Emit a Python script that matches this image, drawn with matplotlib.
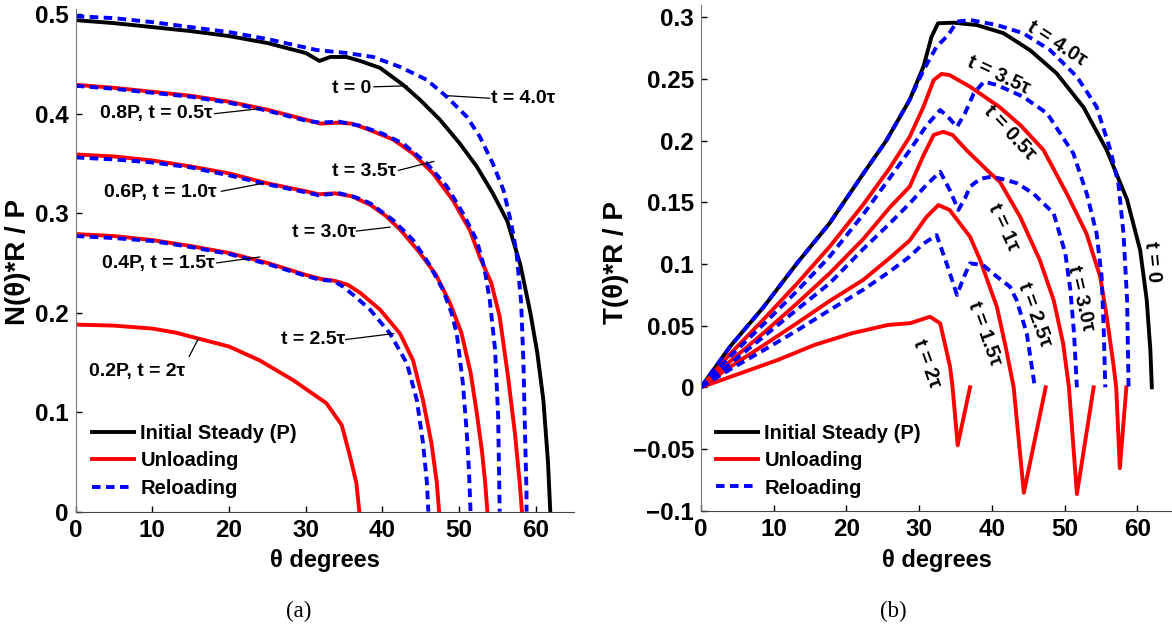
import matplotlib
matplotlib.use("Agg")
import matplotlib.pyplot as plt
from matplotlib.ticker import FuncFormatter

plt.rcParams['font.family'] = ['Liberation Sans', 'DejaVu Sans']
plt.rcParams['font.weight'] = 'bold'

# ---- (a) N(theta)*R/P ----
n_steady_x = [0, 5, 10, 15, 20, 25, 30, 31.8, 33.2, 35.3, 37.1, 39.7, 42.7, 44.9, 47.5, 50.1, 52.3, 54.4, 56.3, 58.0, 59.3, 60.2, 61.0, 61.6, 61.9]
n_steady_y = [0.494, 0.491, 0.487, 0.483, 0.478, 0.471, 0.461, 0.453, 0.457, 0.457, 0.453, 0.446, 0.429, 0.414, 0.394, 0.370, 0.347, 0.320, 0.292, 0.248, 0.200, 0.160, 0.112, 0.050, 0.0]

n_u08_x = [0, 5, 10, 15, 20, 25, 30, 31.9, 34.3, 36.0, 37.9, 41.4, 44.0, 46.6, 49.2, 51.4, 52.7, 54.2, 55.3, 56.4, 57.3, 57.9, 58.2]
n_u08_y = [0.429, 0.426, 0.422, 0.418, 0.412, 0.404, 0.394, 0.390, 0.391, 0.390, 0.385, 0.374, 0.360, 0.340, 0.313, 0.283, 0.256, 0.230, 0.196, 0.135, 0.078, 0.030, 0.0]
n_u06_x = [0, 5, 10, 15, 20, 25, 30, 31.7, 33.8, 36.0, 38.5, 40.5, 42.5, 44.9, 47.0, 48.8, 50.3, 51.5, 52.3, 53.0, 53.4, 53.7]
n_u06_y = [0.359, 0.357, 0.353, 0.347, 0.340, 0.330, 0.322, 0.319, 0.320, 0.317, 0.308, 0.297, 0.282, 0.260, 0.238, 0.210, 0.180, 0.140, 0.100, 0.060, 0.030, 0.0]
n_u04_x = [0, 5, 10, 15, 20, 25, 30, 31.9, 33.8, 35.5, 37.1, 39.7, 42.3, 44.0, 45.3, 46.4, 47.1, 47.4]
n_u04_y = [0.279, 0.277, 0.273, 0.267, 0.260, 0.250, 0.238, 0.234, 0.232, 0.228, 0.220, 0.203, 0.179, 0.152, 0.112, 0.069, 0.029, 0.0]
n_u02_x = [0, 5, 10, 13, 16, 20, 24, 28.4, 32.7, 34.7, 35.8, 36.6, 37.0]
n_u02_y = [0.188, 0.187, 0.184, 0.180, 0.174, 0.166, 0.152, 0.132, 0.109, 0.087, 0.055, 0.029, 0.0]

n_r40_x = [0, 5, 10, 15, 20, 25, 31.4, 35.3, 38.8, 42.3, 45.8, 48.4, 51.0, 52.7, 54.4, 55.8, 56.8, 57.5, 58.1, 58.4, 58.6, 58.8, 58.8]
n_r40_y = [0.498, 0.496, 0.492, 0.487, 0.482, 0.475, 0.464, 0.461, 0.457, 0.447, 0.434, 0.417, 0.397, 0.377, 0.350, 0.323, 0.290, 0.260, 0.210, 0.150, 0.080, 0.020, 0.0]
n_r35_x = [0, 5, 10, 15, 20, 25, 30, 31.9, 34.3, 37.0, 40.0, 42.7, 45.8, 48.4, 50.5, 52.3, 53.3, 54.0, 54.7, 55.1, 55.3]
n_r35_y = [0.428, 0.425, 0.421, 0.417, 0.411, 0.403, 0.393, 0.391, 0.392, 0.388, 0.380, 0.370, 0.350, 0.327, 0.300, 0.273, 0.245, 0.213, 0.163, 0.096, 0.0]
n_r30_x = [0, 5, 10, 15, 20, 25, 30, 31.7, 34.4, 36.5, 38.4, 41.4, 44.0, 46.0, 47.9, 49.0, 49.7, 50.5, 51.0, 51.3, 51.5]
n_r30_y = [0.356, 0.354, 0.351, 0.346, 0.338, 0.329, 0.321, 0.318, 0.320, 0.316, 0.310, 0.293, 0.273, 0.250, 0.223, 0.200, 0.179, 0.129, 0.080, 0.040, 0.0]
n_r25_x = [0, 5, 10, 15, 20, 25, 30, 31.9, 33.6, 34.9, 36.5, 38.4, 41.0, 43.2, 44.5, 45.3, 45.8, 46.0]
n_r25_y = [0.277, 0.275, 0.272, 0.266, 0.259, 0.249, 0.237, 0.233, 0.232, 0.226, 0.216, 0.203, 0.179, 0.149, 0.112, 0.069, 0.030, 0.0]

# ---- (b) T(theta)*R/P ----
t_steady_x = [0, 4.0, 8.6, 13.2, 17.7, 22.3, 25.5, 28.7, 30.6, 31.7, 32.6, 34.7, 37.9, 41.6, 45.3, 48.9, 52.6, 55.8, 58.6, 60.4, 61.3, 61.8, 62.0]
t_steady_y = [0, 0.033, 0.065, 0.1005, 0.133, 0.173, 0.200, 0.233, 0.260, 0.284, 0.295, 0.2955, 0.2936, 0.287, 0.273, 0.2545, 0.227, 0.1923, 0.152, 0.111, 0.0707, 0.030, 0.0]

t_u05_x = [0, 4.0, 8.6, 13.2, 17.7, 22.3, 26.0, 28.7, 30.6, 32.0, 33.1, 34.2, 37.0, 41.0, 44.0, 47.1, 50.3, 53.0, 54.9, 55.8, 56.7, 57.1, 57.6, 58.5]
t_u05_y = [0, 0.027, 0.055, 0.084, 0.114, 0.148, 0.178, 0.203, 0.2274, 0.249, 0.254, 0.253, 0.2436, 0.2274, 0.212, 0.1923, 0.157, 0.1248, 0.0896, 0.0572, 0.0194, 0.0, -0.0656, 0.0]
t_u10_x = [0, 4.0, 8.6, 13.2, 17.7, 22.3, 26.0, 28.7, 30.6, 32.0, 33.3, 34.6, 36.5, 39.8, 41.1, 43.9, 46.6, 48.5, 49.8, 50.6, 51.7, 54.0]
t_u10_y = [0, 0.021, 0.044, 0.068, 0.0924, 0.120, 0.146, 0.1626, 0.188, 0.2045, 0.2071, 0.2045, 0.1923, 0.1734, 0.1666, 0.138, 0.103, 0.0707, 0.0356, 0.0, -0.0865, 0.0]
t_u15_x = [0, 4.0, 8.6, 13.2, 17.7, 22.3, 26.0, 28.7, 31.0, 32.65, 34.2, 37.0, 38.4, 40.7, 42.0, 43.0, 44.4, 47.4]
t_u15_y = [0, 0.0165, 0.034, 0.052, 0.070, 0.087, 0.105, 0.119, 0.138, 0.1477, 0.1437, 0.122, 0.103, 0.065, 0.030, 0.0, -0.0855, 0.0]
t_u20_x = [0, 5.4, 10.5, 15.6, 20.7, 25.7, 28.8, 31.5, 32.9, 34.25, 34.6, 35.3, 37.0]
t_u20_y = [0, 0.0113, 0.022, 0.0343, 0.0437, 0.0505, 0.052, 0.0572, 0.0518, 0.0167, 0.0, -0.047, 0.0]

t_r40_x = [0, 4.0, 8.6, 13.2, 17.7, 22.3, 25.5, 28.7, 30.6, 32.4, 34.0, 35.2, 37.0, 40.7, 44.3, 48.0, 51.7, 54.4, 56.3, 57.4, 58.1, 58.6, 58.8]
t_r40_y = [0, 0.033, 0.065, 0.1005, 0.133, 0.173, 0.200, 0.233, 0.257, 0.276, 0.2855, 0.2963, 0.2977, 0.2936, 0.287, 0.2733, 0.2517, 0.2274, 0.1923, 0.165, 0.1248, 0.0707, 0.0]
t_r35_x = [0, 4.0, 8.6, 13.2, 17.7, 22.3, 26.0, 28.7, 31.0, 32.9, 34.0, 35.2, 36.3, 37.5, 38.9, 40.7, 44.3, 47.6, 51.2, 53.05, 54.4, 55.1, 55.4, 55.6]
t_r35_y = [0, 0.025, 0.051, 0.078, 0.106, 0.140, 0.170, 0.192, 0.212, 0.2247, 0.219, 0.211, 0.222, 0.238, 0.2477, 0.245, 0.2355, 0.222, 0.1896, 0.157, 0.1248, 0.0896, 0.0437, 0.0]
t_r30_x = [0, 4.0, 8.6, 13.2, 17.7, 22.3, 26.0, 28.7, 31.0, 32.9, 34.2, 35.4, 36.3, 37.0, 38.4, 40.0, 42.0, 43.5, 45.7, 48.5, 50.1, 50.8, 51.3, 51.7]
t_r30_y = [0, 0.019, 0.041, 0.063, 0.0843, 0.112, 0.133, 0.149, 0.164, 0.1747, 0.160, 0.1437, 0.153, 0.1626, 0.169, 0.1707, 0.168, 0.1653, 0.157, 0.141, 0.1086, 0.0788, 0.0437, 0.0]
t_r25_x = [0, 4.0, 8.6, 13.2, 17.7, 22.3, 26.0, 28.7, 30.5, 32.4, 33.8, 35.2, 36.2, 37.0, 38.8, 40.7, 42.5, 43.4, 44.8, 45.7, 45.9]
t_r25_y = [0, 0.0145, 0.030, 0.046, 0.0626, 0.079, 0.094, 0.1059, 0.116, 0.1234, 0.100, 0.0748, 0.090, 0.1005, 0.099, 0.0896, 0.0815, 0.0707, 0.0437, 0.0086, 0.0]

legend_labels = ["Initial Steady (P)", "Unloading", "Reloading"]

RED = '#ff0000'
BLUE = '#0000ff'
LW = 2.8
DASH = (0, (2.2, 1.4))

fig = plt.figure(figsize=(11.72, 6.3), dpi=100)
ax1 = fig.add_axes([0.0646, 0.1878, 0.4252, 0.7976])
ax2 = fig.add_axes([0.5981, 0.1894, 0.4033, 0.803])

fmt = FuncFormatter(lambda v, p: f'{v:g}'.replace('-', '\u2212'))

for ax in (ax1, ax2):
    ax.spines['top'].set_visible(False)
    ax.spines['right'].set_visible(False)
    ax.spines['left'].set_color('#777777')
    ax.spines['bottom'].set_color('#444444')
    ax.tick_params(direction='in', length=4, width=1, labelsize=17.5, pad=5)
    ax.set_xlim(0, 65)
    ax.set_xticks(range(0, 61, 10))
    ax.yaxis.set_major_formatter(fmt)
    ax.set_xlabel('\u03b8 degrees', fontsize=17, fontweight='bold')

# (a)
ax1.set_ylim(0, 0.505)
ax1.set_yticks([0, 0.1, 0.2, 0.3, 0.4, 0.5])
h1, = ax1.plot(n_steady_x, n_steady_y, color='k', lw=LW)
h2, = ax1.plot(n_u08_x, n_u08_y, color=RED, lw=LW)
for xs, ys in [(n_u06_x, n_u06_y), (n_u04_x, n_u04_y), (n_u02_x, n_u02_y)]:
    ax1.plot(xs, ys, color=RED, lw=LW)
h3, = ax1.plot(n_r40_x, n_r40_y, color=BLUE, lw=LW, ls=DASH)
for xs, ys in [(n_r35_x, n_r35_y), (n_r30_x, n_r30_y), (n_r25_x, n_r25_y)]:
    ax1.plot(xs, ys, color=BLUE, lw=LW, ls=DASH)

# label, text centre, line start, line end
notes_a = [
    ('t = 0', (36.0, 0.4255), (38.9, 0.427), (43.2, 0.428)),
    ('t = 4.0\u03c4', (58.4, 0.4155), (54.0, 0.4155), (48.6, 0.418)),
    ('0.8P, t = 0.5\u03c4', (10.5, 0.400), (18.1, 0.400), (24.0, 0.405)),
    ('t = 3.5\u03c4', (37.65, 0.342), (42.1, 0.343), (46.7, 0.352)),
    ('0.6P, t = 1.0\u03c4', (11.05, 0.3206), (19.0, 0.322), (24.4, 0.330)),
    ('t = 3.0\u03c4', (32.4, 0.281), (36.6, 0.282), (41.0, 0.286)),
    ('0.4P, t = 1.5\u03c4', (10.75, 0.2497), (18.4, 0.250), (24.0, 0.256)),
    ('t = 2.5\u03c4', (30.95, 0.1726), (35.2, 0.173), (41.5, 0.179)),
    ('0.2P, t = 2\u03c4', (7.95, 0.1407), (14.8, 0.156), (16.0, 0.174)),
]
for s, (tx, ty), (x0, y0), (x1, y1) in notes_a:
    ax1.text(tx, ty, s, fontsize=14, ha='center', va='center')
    ax1.plot([x0, x1], [y0, y1], color='k', lw=0.9)

ax1.set_ylabel('N(\u03b8)*R / P', fontsize=20, fontweight='bold')
ax1.yaxis.set_label_coords(-0.089, 0.497)
ax1.xaxis.set_label_coords(0.5, -0.074)
ax1.legend([h1, h2, h3], legend_labels, loc='lower left', bbox_to_anchor=(0.0327, 0.028),
           frameon=False, borderpad=0, borderaxespad=0, handlelength=2.1,
           handletextpad=0.3, labelspacing=0.42, prop={'weight': 'bold', 'size': 14.5})

# (b)
ax2.set_ylim(-0.1, 0.31)
ax2.set_yticks([-0.1, -0.05, 0, 0.05, 0.1, 0.15, 0.2, 0.25, 0.3])
g1, = ax2.plot(t_steady_x, t_steady_y, color='k', lw=LW)
g2, = ax2.plot(t_u05_x, t_u05_y, color=RED, lw=LW)
for xs, ys in [(t_u10_x, t_u10_y), (t_u15_x, t_u15_y), (t_u20_x, t_u20_y)]:
    ax2.plot(xs, ys, color=RED, lw=LW)
g3, = ax2.plot(t_r40_x, t_r40_y, color=BLUE, lw=LW, ls=DASH)
for xs, ys in [(t_r35_x, t_r35_y), (t_r30_x, t_r30_y), (t_r25_x, t_r25_y)]:
    ax2.plot(xs, ys, color=BLUE, lw=LW, ls=DASH)

notes_b = [
    ('t = 4.0\u03c4', 48.9, 0.279, -33),
    ('t = 3.5\u03c4', 40.9, 0.253, -25),
    ('t = 0.5\u03c4', 42.5, 0.206, -47),
    ('t = 1\u03c4', 41.6, 0.130, -65),
    ('t = 2.5\u03c4', 45.9, 0.059, -70),
    ('t = 3.0\u03c4', 52.2, 0.072, -77),
    ('t = 0', 62.0, 0.102, -85),
    ('t = 1.5\u03c4', 39.0, 0.0437, -70),
    ('t = 2\u03c4', 31.1, 0.0194, -70),
]
for s, tx, ty, rot in notes_b:
    ax2.text(tx, ty, s, fontsize=14.5, ha='center', va='center',
             rotation=rot, rotation_mode='anchor')

ax2.set_ylabel('T(\u03b8)*R / P', fontsize=20, fontweight='bold')
ax2.yaxis.set_label_coords(-0.152, 0.4915)
ax2.xaxis.set_label_coords(0.5, -0.075)
ax2.legend([g1, g2, g3], legend_labels, loc='lower left', bbox_to_anchor=(0.0317, 0.026),
           frameon=False, borderpad=0, borderaxespad=0, handlelength=2.1,
           handletextpad=0.3, labelspacing=0.42, prop={'weight': 'bold', 'size': 14.5})

fig.text(299 / 1172, 1 - 611.7 / 630, '(a)', family='Liberation Serif', fontweight='normal',
         fontsize=16.5, ha='center', va='center')
fig.text(893 / 1172, 1 - 611.7 / 630, '(b)', family='Liberation Serif', fontweight='normal',
         fontsize=16.5, ha='center', va='center')

fig.savefig('out.png', dpi=100)
